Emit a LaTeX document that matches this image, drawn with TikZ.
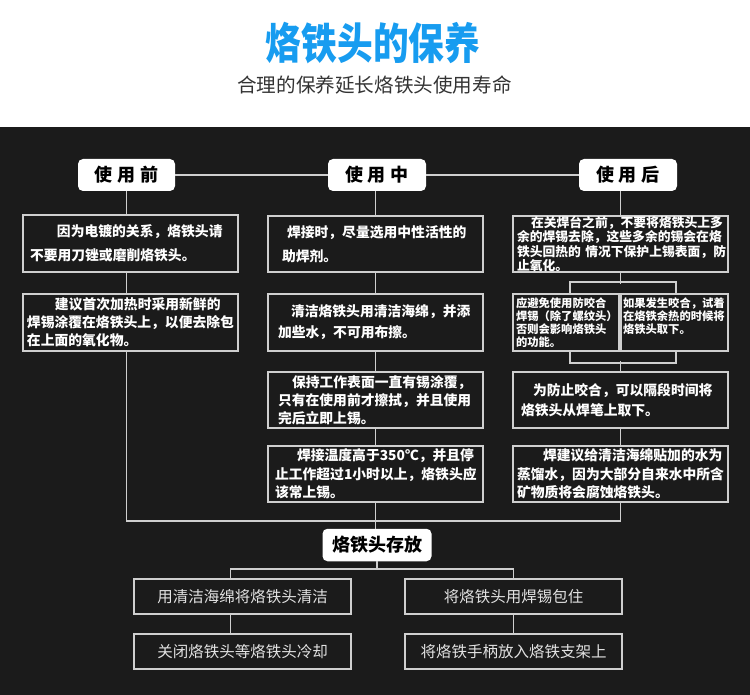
\documentclass[tikz,border=0pt]{standalone}
\usepackage{fontspec}
\newfontfamily\cjk{Noto Sans CJK SC}
\definecolor{bgdark}{HTML}{1B1B1B}
\definecolor{linegray}{HTML}{CFCFCF}
\definecolor{titleblue}{HTML}{179CF0}
\definecolor{subgray}{HTML}{333333}
\definecolor{softwhite}{HTML}{E2E2E2}
\begin{document}
\begin{tikzpicture}[x=1pt,y=-1pt,
  conn/.style={draw=linegray,line width=1.5pt},
  hdr/.style={fill=white,rounded corners=5pt,inner sep=0pt,text=black,minimum height=32pt,
    font=\cjk\bfseries\fontsize{18}{20}\selectfont},
  tbox/.style={draw=linegray,line width=1.6pt,fill=bgdark,text=white,inner ysep=0pt,align=left,
    minimum height=56pt},
  sbox/.style={draw=linegray,line width=1.6pt,fill=bgdark,text=softwhite,inner sep=0pt,
    font=\cjk\fontsize{15.5}{18}\selectfont,minimum width=217pt,minimum height=35pt}
]
\useasboundingbox (0,0) rectangle (750,695);
\fill[white] (0,0) rectangle (750,695);
\fill[bgdark] (0,127) rectangle (750,695);

% title
\node[font=\cjk\bfseries\fontsize{43}{43}\selectfont,text=titleblue,inner sep=0pt] (title) at (373,43) {\scalebox{0.83}[1]{烙铁头的保养}};
\node[font=\cjk\fontsize{19.6}{20}\selectfont,text=subgray,inner sep=0pt] (sub) at (374.5,85) {合理的保养延长烙铁头使用寿命};

% headers
\node[hdr,minimum width=97pt] (h1) at (126.5,175) {使\hspace{5pt}用\hspace{5pt}前};
\node[hdr,minimum width=98pt] (h2) at (377,175) {使\hspace{5pt}用\hspace{5pt}中};
\node[hdr,minimum width=98pt] (h3) at (628,175) {使\hspace{5pt}用\hspace{5pt}后};

% column 1
\node[tbox,inner xsep=7pt,text width=201pt,minimum height=57pt,font=\cjk\bfseries\fontsize{13.8}{24}\selectfont] (b1) at (130.5,243.5)
  {\hspace*{27pt}因为电镀的关系，烙铁头请\\不要用刀锉或磨削烙铁头。};
\node[tbox,inner xsep=4pt,text width=207pt,minimum height=57pt,font=\cjk\bfseries\fontsize{13.8}{18}\selectfont] (b2) at (130.5,322.5)
  {\hspace*{28pt}建议首次加热时采用新鲜的\\焊锡涂覆在烙铁头上，以便去除包\\在上面的氧化物。};

% column 2
\node[tbox,inner xsep=14pt,text width=187pt,font=\cjk\bfseries\fontsize{13.8}{24}\selectfont] (b3) at (375.5,244)
  {\hspace*{5pt}焊接时，尽量选用中性活性的\\助焊剂。};
\node[tbox,inner xsep=10pt,text width=195pt,minimum height=57pt,font=\cjk\bfseries\fontsize{13.8}{21}\selectfont] (b4) at (375.5,322.5)
  {\hspace*{13pt}清洁烙铁头用清洁海绵，并添\\加些水，不可用布擦。};
\node[tbox,inner xsep=10pt,text width=195pt,font=\cjk\bfseries\fontsize{13.8}{18}\selectfont] (b5) at (375.5,400)
  {\hspace*{14pt}保持工作表面一直有锡涂覆，\\只有在使用前才擦拭，并且使用\\完后立即上锡。};
\node[tbox,inner xsep=7pt,text width=201pt,font=\cjk\bfseries\fontsize{13.8}{18.5}\selectfont] (b6) at (375.5,474)
  {\hspace*{22pt}焊接温度高于350℃，并且停\\止工作超过1小时以上，烙铁头应\\该常上锡。};

% column 3
\node[tbox,inner xsep=4pt,text width=207pt,font=\cjk\bfseries\fontsize{12.8}{14.3}\selectfont] (b7) at (620.5,244)
  {\hspace*{14pt}在关焊台之前，不要将烙铁头上多\\余的焊锡去除，这些多余的锡会在烙\\铁头回热的~情况下保护上锡表面，防\\止氧化。};
\node[tbox,inner xsep=3pt,text width=100pt,minimum height=57pt,font=\cjk\bfseries\fontsize{11.3}{13}\selectfont] (sL) at (566,322.5)
  {应避免使用防咬合\\焊锡（除了螺纹头）\\否则会影响烙铁头\\的功能。};
\node[tbox,inner xsep=2pt,text width=103pt,minimum height=57pt,font=\cjk\bfseries\fontsize{11.3}{13}\selectfont] (sR) at (674.5,322.5)
  {如果发生咬合，试着\\在烙铁余热的时候将\\烙铁头取下。\\\mbox{}};
\node[tbox,inner xsep=8pt,text width=199pt,font=\cjk\bfseries\fontsize{13.8}{20}\selectfont] (b8) at (620.5,400)
  {\hspace*{12pt}为防止咬合，可以隔段时间将\\烙铁头从焊笔上取下。};
\node[tbox,inner xsep=4pt,text width=207pt,font=\cjk\bfseries\fontsize{13.8}{18.5}\selectfont] (b9) at (620.5,474)
  {\hspace*{26pt}焊建议给清洁海绵贴加的水为\\蒸馏水，因为大部分自来水中所含\\矿物质将会腐蚀烙铁头。};

% storage
\node[hdr,minimum width=109pt,minimum height=32.5pt] (store) at (377,545) {烙铁头存放};
\node[sbox] (L1) at (242.5,596.5) {用清洁海绵将烙铁头清洁};
\node[sbox,minimum width=216.5pt] (R1) at (513.5,596.5) {将烙铁头用焊锡包住};
\node[sbox] (L2) at (242.5,651.5) {关闭烙铁头等烙铁头冷却};
\node[sbox,minimum width=216.5pt] (R2) at (513.5,651.5) {将烙铁手柄放入烙铁支架上};

% connectors
\coordinate (bus) at (0,521);
\coordinate (bus2) at (0,569);
\draw[conn] (h1.east) -- (h2.west);
\draw[conn] (h2.east) -- (h3.west);
\draw[conn] (h1.south) -- (h1.south |- b1.north);
\draw[conn] (h1.south |- b1.south) -- (h1.south |- b2.north);
\draw[conn] (b3.north |- h2.south) -- (b3.north);
\draw[conn] (b3.south) -- (b4.north);
\draw[conn] (b4.south) -- (b5.north);
\draw[conn] (b5.south) -- (b6.north);
\draw[conn] (b7.north |- h3.south) -- (b7.north);
\coordinate (sLt) at ([xshift=4pt]sL.north);
\coordinate (sRt) at ([xshift=1.5pt]sR.north);
\coordinate (sLb) at ([xshift=4pt]sL.south);
\coordinate (sRb) at ([xshift=1.5pt]sR.south);
\draw[conn] (b7.south) -- ++(0,11);
\draw[conn] (sLt) -- ++(0,-11) -| (sRt);
\draw[conn] (sLb) -- ++(0,11) -| (sRb);
\draw[conn] (b8.north) -- ++(0,-10);
\draw[conn] (b8.south) -- (b9.north);
\draw[conn] (h1.south |- b2.south) -- (h1.south |- bus) -- (b9.south |- bus) -- (b9.south);
\draw[conn] (b6.south) -- (b6.south |- store.north);
\draw[conn] (store.south) -- (store.south |- bus2);
\draw[conn] ([xshift=-12pt]L1.north) |- (R1.north |- bus2) -- (R1.north);
\draw[conn] ([xshift=-12pt]L1.south) -- ([xshift=-12pt]L2.north);
\draw[conn] (R1.south) -- (R2.north);
\end{tikzpicture}
\end{document}
